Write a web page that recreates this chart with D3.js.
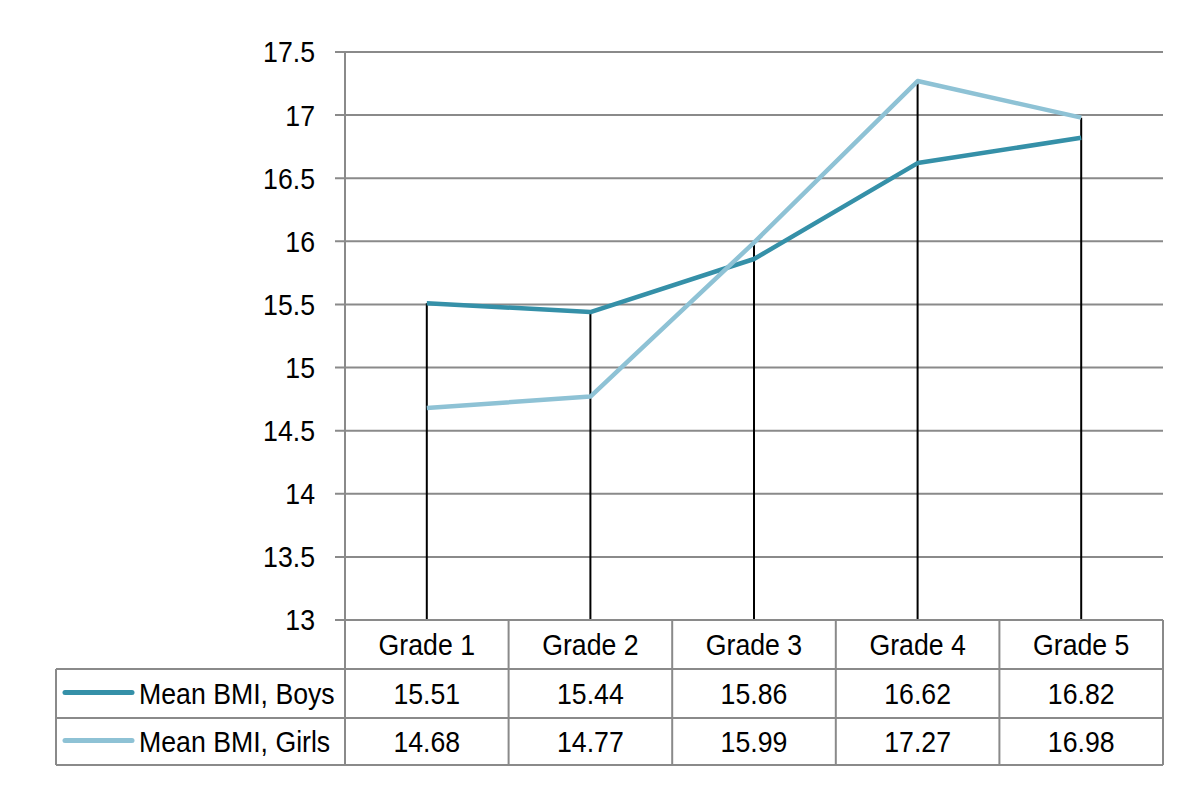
<!DOCTYPE html>
<html><head><meta charset="utf-8">
<script src="https://cdn.jsdelivr.net/npm/d3@7"></script>
<style>body{margin:0;background:#fff}svg{display:block}text{font-family:"Liberation Sans",Arial,sans-serif;fill:#000}</style>
</head><body><svg id="c" width="1200" height="800"></svg>
<script>
const categories = ["Grade 1","Grade 2","Grade 3","Grade 4","Grade 5"];
const boys = [15.51,15.44,15.86,16.62,16.82];
const girls = [14.68,14.77,15.99,17.27,16.98];
const seriesNames = ["Mean BMI, Boys","Mean BMI, Girls"];
const seriesColors = ["#3590A8","#8EC2D5"];
const yTicks = [13,13.5,14,14.5,15,15.5,16,16.5,17,17.5];

const svg = d3.select("#c");
const L = 345, R = 1163, T = 52, B = 620;
const rowH = 49, tableLeft = 56;
const x = d3.scaleBand().domain(categories).range([L,R]).padding(0);
const y = d3.scaleLinear().domain([13,17.5]).range([B,T]);
const grid = "#8a8a8a", fs = "29px", sx = 0.92;
// condensed text helper
function txt(sel, fx, fy){
  return sel.attr("transform",(d,i)=>`translate(${fx(d,i)},${fy(d,i)}) scale(${sx},1)`)
    .attr("dy","0.36em").style("font-size",fs);
}

// gridlines
svg.append("g").selectAll("line").data(yTicks).join("line")
  .attr("x1",L-10).attr("x2",R).attr("y1",d=>y(d)).attr("y2",d=>y(d))
  .attr("stroke",grid).attr("stroke-width",2);
// y axis line
svg.append("line").attr("x1",L).attr("x2",L).attr("y1",T).attr("y2",B).attr("stroke",grid).attr("stroke-width",2);
// y labels
txt(svg.append("g").selectAll("text").data(yTicks).join("text"), ()=>L-30, d=>y(d))
  .attr("text-anchor","end").text(d=>d);

// drop lines
const cx = d=>x(d)+x.bandwidth()/2;
svg.append("g").selectAll("line").data(categories).join("line")
  .attr("x1",cx).attr("x2",cx)
  .attr("y1",(d,i)=>y(Math.max(boys[i],girls[i]))).attr("y2",y(13))
  .attr("stroke","#000").attr("stroke-width",2);

// series lines
const line = d3.line().x((d,i)=>cx(categories[i])).y(d=>y(d));
[boys,girls].forEach((s,k)=>{
  svg.append("path").datum(s).attr("d",line).attr("fill","none")
    .attr("stroke",seriesColors[k]).attr("stroke-width",4.5).attr("stroke-linejoin","round");
});

// data table
const tg = svg.append("g");
tg.append("line").attr("x1",L).attr("x2",R).attr("y1",B).attr("y2",B).attr("stroke",grid).attr("stroke-width",2);
[1,2,3].forEach(r=>{
  const yy = B+r*rowH-(r==3?2:0);
  tg.append("line").attr("x1",tableLeft).attr("x2",R).attr("y1",yy).attr("y2",yy)
    .attr("stroke",grid).attr("stroke-width",2);
});
categories.forEach(c=>{
  tg.append("line").attr("x1",x(c)).attr("x2",x(c)).attr("y1",B).attr("y2",B+3*rowH-2).attr("stroke",grid).attr("stroke-width",2);
});
tg.append("line").attr("x1",R).attr("x2",R).attr("y1",B).attr("y2",B+3*rowH-2).attr("stroke",grid).attr("stroke-width",2);
tg.append("line").attr("x1",tableLeft).attr("x2",tableLeft).attr("y1",B+rowH).attr("y2",B+3*rowH-2).attr("stroke",grid).attr("stroke-width",2);
// category labels
txt(tg.selectAll("text.cat").data(categories).join("text").attr("class","cat"), d=>cx(d), ()=>B+rowH/2)
  .attr("text-anchor","middle").text(d=>d);
[boys,girls].forEach((s,k)=>{
  const ry = B+(k+1)*rowH+rowH/2 - k;
  tg.append("line").attr("x1",65).attr("x2",132).attr("y1",ry-1).attr("y2",ry-1)
    .attr("stroke",seriesColors[k]).attr("stroke-width",5).attr("stroke-linecap","round");
  txt(tg.append("text").datum(seriesNames[k]), ()=>139, ()=>ry).text(d=>d);
  txt(tg.append("g").selectAll("text").data(s).join("text"), (d,i)=>cx(categories[i]), ()=>ry)
    .attr("text-anchor","middle").text(d=>d.toFixed(2));
});
</script></body></html>
